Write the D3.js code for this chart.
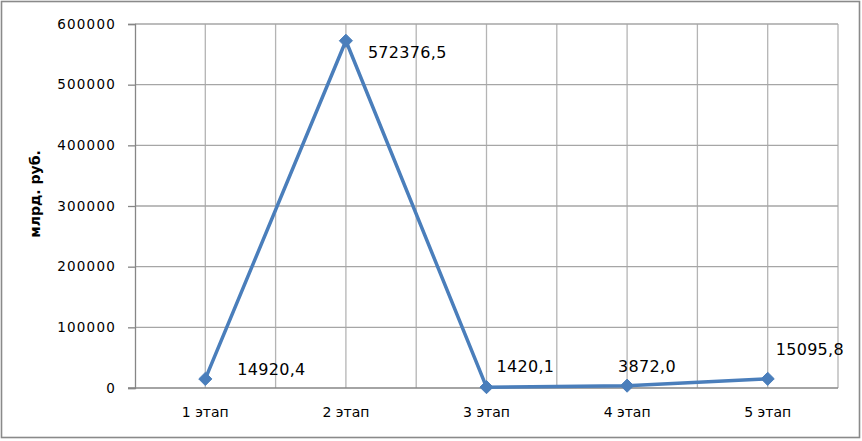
<!DOCTYPE html>
<html>
<head>
<meta charset="utf-8">
<script src="https://cdn.jsdelivr.net/npm/d3@7"></script>
<style>
  body { margin: 0; background: #fff; }
  text { font-family: "DejaVu Sans", sans-serif; fill: #000; }
</style>
</head>
<body>
<svg id="chart" width="862" height="441"></svg>
<script>
const stages = ['1 этап', '2 этап', '3 этап', '4 этап', '5 этап'];
const values = [14920.4, 572376.5, 1420.1, 3872.0, 15095.8];
const valueLabels = ['14920,4', '572376,5', '1420,1', '3872,0', '15095,8'];
const yTicks = [0, 100000, 200000, 300000, 400000, 500000, 600000];
const yTitle = 'млрд. руб.';
// where each value label sits relative to its point
const labelNudge = [[32, -4], [22, 17], [10, -15], [-9, -14], [8, -24]];

let svg = d3.select('#chart');
let width = +svg.attr('width');
let height = +svg.attr('height');

let plot = {left: 135, right: 838, top: 24, bottom: 388};

// outer frame
svg.append('rect')
  .attr('x', 1.5).attr('y', 1.5)
  .attr('width', width - 4).attr('height', height - 5)
  .attr('fill', '#fff')
  .attr('stroke', '#8a8a8a')
  .attr('stroke-width', 1.6);

let sx = d3.scaleBand()
  .domain(stages)
  .range([plot.left, plot.right]);

let sy = d3.scaleLinear()
  .domain([0, 600000])
  .range([plot.bottom, plot.top]);

// vertical gridlines at band edges and centers
let vgrid = [];
stages.forEach(s => {
  vgrid.push(sx(s));
  vgrid.push(sx(s) + sx.bandwidth() / 2);
});
vgrid.push(plot.right);

svg.selectAll('.vgrid')
  .data(vgrid.slice(1))
  .enter()
  .append('line')
  .attr('class', 'vgrid')
  .attr('x1', d => d).attr('x2', d => d)
  .attr('y1', plot.top).attr('y2', plot.bottom)
  .attr('stroke', '#b4b4b4')
  .attr('stroke-width', 1.3);

svg.selectAll('.hgrid')
  .data(yTicks.slice(1))
  .enter()
  .append('line')
  .attr('class', 'hgrid')
  .attr('x1', plot.left).attr('x2', plot.right)
  .attr('y1', d => sy(d)).attr('y2', d => sy(d))
  .attr('stroke', '#a6a6a6')
  .attr('stroke-width', 1.3);

// y axis
let yAxis = d3.axisLeft(sy)
  .tickValues(yTicks)
  .tickSize(7)
  .tickPadding(12)
  .tickFormat(d => String(d));

let gy = svg.append('g')
  .attr('transform', `translate(${plot.left},0)`)
  .call(yAxis);
gy.select('.domain').attr('stroke', '#868686').attr('stroke-width', 1.3);
gy.selectAll('.tick line').attr('stroke', '#868686').attr('stroke-width', 1.3);
gy.selectAll('.tick text')
  .style('font-family', '"DejaVu Sans", sans-serif')
  .style('font-size', '13.5px')
  .style('letter-spacing', '1.2px')
  .attr('fill', '#111');

// x axis
let gx = svg.append('g')
  .attr('transform', `translate(0,${plot.bottom})`)
  .call(d3.axisBottom(sx).tickSize(0).tickPadding(19));
gx.select('.domain').remove();
gx.append('line')
  .attr('x1', plot.left - 7).attr('x2', plot.right)
  .attr('stroke', '#868686').attr('stroke-width', 1.3);
gx.selectAll('.tick text')
  .style('font-family', '"DejaVu Sans", sans-serif')
  .style('font-size', '14px')
  .attr('fill', '#111');

// axis title
svg.append('text')
  .attr('transform', `translate(40,194) rotate(-90)`)
  .attr('text-anchor', 'middle')
  .style('font-size', '14px')
  .style('font-weight', 'bold')
  .text(yTitle);

// line
let pts = stages.map((s, i) => [sx(s) + sx.bandwidth() / 2, sy(values[i])]);

svg.append('path')
  .datum(pts)
  .attr('d', d3.line())
  .attr('fill', 'none')
  .attr('stroke', '#4a7ebb')
  .attr('stroke-width', 3.5)
  .attr('stroke-linejoin', 'round');

svg.selectAll('.marker')
  .data(pts)
  .enter()
  .append('path')
  .attr('class', 'marker')
  .attr('d', d3.symbol(d3.symbolDiamond2, 110))
  .attr('transform', d => `translate(${d[0]},${d[1]})`)
  .attr('fill', '#4a7ebb')
  .attr('stroke', '#4a7ebb')
  .attr('stroke-width', 1);

svg.selectAll('.vlabel')
  .data(pts)
  .enter()
  .append('text')
  .attr('class', 'vlabel')
  .attr('x', (d, i) => d[0] + labelNudge[i][0])
  .attr('y', (d, i) => d[1] + labelNudge[i][1])
  .style('font-size', '16px')
  .style('letter-spacing', '0.3px')
  .attr('fill', '#111')
  .text((d, i) => valueLabels[i]);
</script>
</body>
</html>
